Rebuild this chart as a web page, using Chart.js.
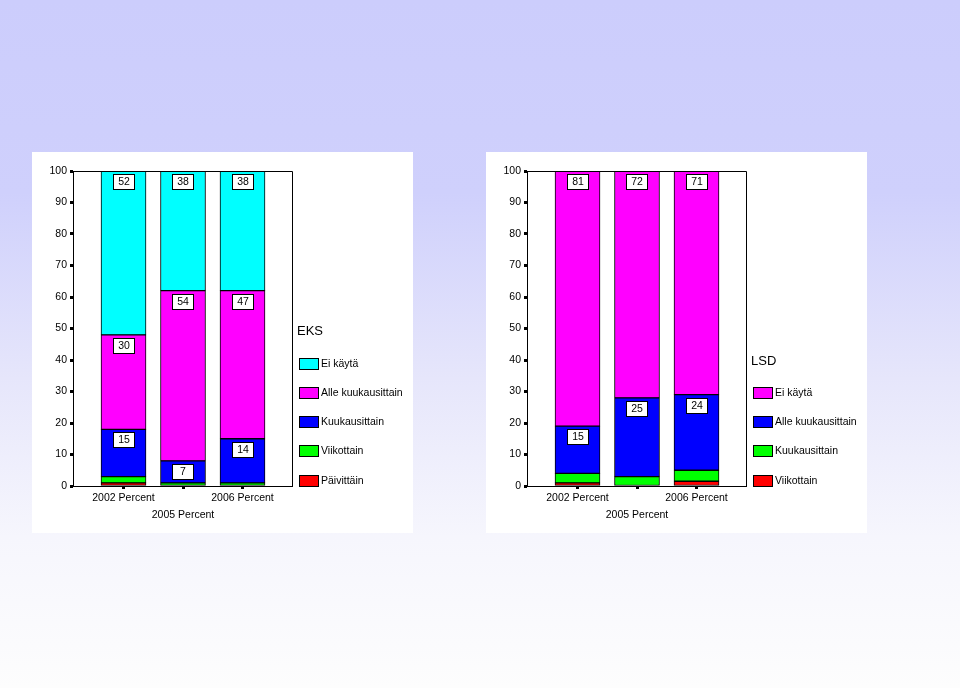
<!DOCTYPE html>
<html>
<head>
<meta charset="utf-8">
<script src="https://cdn.jsdelivr.net/npm/chart.js@4/dist/chart.umd.min.js"></script>
<style>
  html, body { margin: 0; padding: 0; }
  body {
    width: 960px; height: 688px; position: relative; overflow: hidden;
    background: linear-gradient(to bottom, #cccdfc 0%, #cfd0fc 28%, #e6e6fb 55%, #f6f6fd 78%, #fdfdfd 100%);
  }
  .panel { position: absolute; top: 152px; width: 381px; height: 381px; background: #fff; }
  canvas { display: block; }
</style>
</head>
<body>
<div class="panel" style="left:32px"><canvas id="eksChart" width="381" height="381"></canvas></div>
<div class="panel" style="left:486px"><canvas id="lsdChart" width="381" height="381"></canvas></div>
<script>
// categories (x axis)
const years = ['2002 Percent', '2005 Percent', '2006 Percent'];

// EKS series, bottom of stack first
const eksNames = ['Päivittäin', 'Viikottain', 'Kuukausittain', 'Alle kuukausittain', 'Ei käytä'];
const eksPaivittain = [1, 0, 0];
const eksViikottain = [2, 1, 1];
const eksKuukausittain = [15, 7, 14];
const eksAlleKuukausittain = [30, 54, 47];
const eksEiKayta = [52, 38, 38];

// LSD series, bottom of stack first
const lsdNames = ['Viikottain', 'Kuukausittain', 'Alle kuukausittain', 'Ei käytä'];
const lsdViikottain = [1, 0, 1.5];
const lsdKuukausittain = [3, 3, 3.5];
const lsdAlleKuukausittain = [15, 25, 24];
const lsdEiKayta = [81, 72, 71];

// y axis ticks
const yTicks = [0, 10, 20, 30, 40, 50, 60, 70, 80, 90, 100];

const RED = '#ff0000', GREEN = '#00ff00', BLUE = '#0000ff', MAGENTA = '#ff00ff', CYAN = '#00ffff';
const FONT = 'Arial, "Liberation Sans", sans-serif';

Chart.defaults.font.family = FONT;
Chart.defaults.color = '#000';

// Draws the top and right edges of the plot frame
const framePlugin = {
    id: 'frame',
    afterDraw(chart) {
        const a = chart.chartArea, ctx = chart.ctx;
        ctx.save();
        ctx.strokeStyle = '#000';
        ctx.lineWidth = 1;
        ctx.beginPath();
        ctx.moveTo(Math.round(a.left) + 0.5, Math.round(a.top) + 0.5);
        ctx.lineTo(Math.round(a.right) + 0.5, Math.round(a.top) + 0.5);
        ctx.lineTo(Math.round(a.right) + 0.5, Math.round(a.bottom) + 0.5);
        ctx.stroke();
        ctx.restore();
    }
};

// Boxed value labels near the top of the larger segments
const boxLabelPlugin = {
    id: 'boxLabels',
    afterDatasetsDraw(chart) {
        const ctx = chart.ctx;
        ctx.save();
        ctx.font = '10.5px ' + FONT;
        ctx.textAlign = 'center';
        ctx.textBaseline = 'middle';
        chart.data.datasets.forEach(function(ds, di) {
            const meta = chart.getDatasetMeta(di);
            meta.data.forEach(function(bar, i) {
                const v = ds.data[i].y;
                if (v < 5) return;
                const cx = Math.round(bar.x), cy = Math.round(bar.y) + 11;
                ctx.fillStyle = '#fff';
                ctx.fillRect(cx - 11, cy - 8, 22, 16);
                ctx.strokeStyle = '#000';
                ctx.lineWidth = 1;
                ctx.strokeRect(cx - 10.5, cy - 7.5, 21, 15);
                ctx.fillStyle = '#000';
                ctx.fillText(String(Math.round(v)), cx, cy + 0.5);
            });
        });
        ctx.restore();
    }
};

// Legend on the right, top of stack listed first, bottom aligned
const sideLegendPlugin = {
    id: 'sideLegend',
    afterDraw(chart, args, opts) {
        const ctx = chart.ctx;
        const items = chart.data.datasets.slice().reverse();
        const step = 29.2, lastY = 328.6;
        const firstY = lastY - step * (items.length - 1);
        ctx.save();
        ctx.textBaseline = 'middle';
        ctx.textAlign = 'left';
        ctx.fillStyle = '#000';
        ctx.font = '13px ' + FONT;
        ctx.fillText(opts.title, 265, firstY - 32);
        ctx.font = '10.5px ' + FONT;
        items.forEach(function(ds, k) {
            const y = Math.round(firstY + step * k);
            ctx.fillStyle = ds.backgroundColor;
            ctx.fillRect(267, y - 6, 20, 12);
            ctx.strokeStyle = '#000';
            ctx.lineWidth = 1;
            ctx.strokeRect(267.5, y - 5.5, 19, 11);
            ctx.fillStyle = '#000';
            ctx.fillText(ds.label, 289, y + 0.5);
        });
        ctx.restore();
    }
};

function toPoints(values) {
    return values.map(function(v, i) { return { x: i, y: v }; });
}

function makeChart(id, title, names, series, colors) {
    const datasets = series.map(function(values, k) {
        return {
            label: names[k],
            data: toPoints(values),
            backgroundColor: colors[k],
            borderColor: '#000',
            borderWidth: 1,
            borderSkipped: false,
            barThickness: 45
        };
    });
    return new Chart(document.getElementById(id), {
        type: 'bar',
        data: { datasets: datasets },
        options: {
            responsive: false,
            animation: false,
            layout: { padding: { top: 19, left: 0, right: 121, bottom: 6 } },
            plugins: {
                legend: { display: false },
                tooltip: { enabled: false },
                sideLegend: { title: title }
            },
            scales: {
                x: {
                    type: 'linear',
                    stacked: true,
                    offset: false,
                    bounds: 'data',
                    min: -0.849,
                    max: 2.832,
                    afterBuildTicks: function(scale) {
                        scale.ticks = years.map(function(y, i) { return { value: i }; });
                    },
                    afterFit: function(scale) { scale.height = 41; },
                    ticks: {
                        autoSkip: false,
                        maxRotation: 0,
                        padding: 1,
                        font: { size: 10.5, lineHeight: 1.6 },
                        callback: function(v) { return v === 1 ? ['', years[v]] : years[v]; }
                    },
                    grid: { offset: false, drawOnChartArea: false, tickLength: 3, tickWidth: 3, tickColor: '#000' },
                    border: { display: true, color: '#000', width: 1 }
                },
                y: {
                    stacked: true,
                    min: 0,
                    max: 100,
                    afterBuildTicks: function(scale) {
                        scale.ticks = yTicks.map(function(v) { return { value: v }; });
                    },
                    afterFit: function(scale) { scale.width = 41; },
                    ticks: { padding: 3, font: { size: 10.5 } },
                    grid: { drawOnChartArea: false, tickLength: 3, tickWidth: 3, tickColor: '#000' },
                    border: { display: true, color: '#000', width: 1 }
                }
            }
        },
        plugins: [framePlugin, boxLabelPlugin, sideLegendPlugin]
    });
}

makeChart('eksChart', 'EKS', eksNames,
    [eksPaivittain, eksViikottain, eksKuukausittain, eksAlleKuukausittain, eksEiKayta],
    [RED, GREEN, BLUE, MAGENTA, CYAN]);

makeChart('lsdChart', 'LSD', lsdNames,
    [lsdViikottain, lsdKuukausittain, lsdAlleKuukausittain, lsdEiKayta],
    [RED, GREEN, BLUE, MAGENTA]);
</script>
</body>
</html>
